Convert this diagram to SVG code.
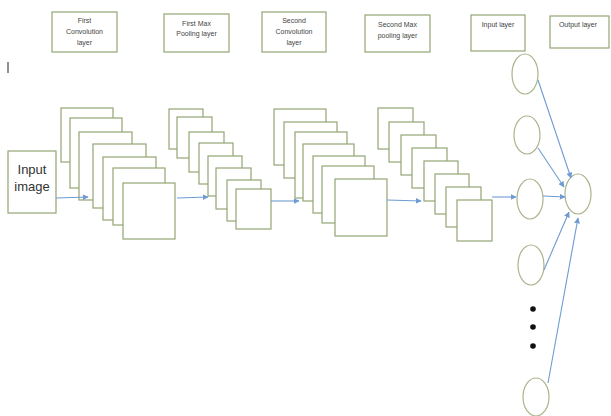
<svg xmlns="http://www.w3.org/2000/svg" width="611" height="416" viewBox="0 0 611 416">
<style>
.box{fill:#fff;stroke:#93a675;stroke-width:1.2}
.fm{fill:#fff;stroke:#93a675;stroke-width:1.2}
.cir{fill:#fff;stroke:#a9b58c;stroke-width:1.2}
.lbl{font-family:"Liberation Sans",Arial,sans-serif;font-size:7px;fill:#444;text-anchor:middle}
.big{font-family:"Liberation Sans",Arial,sans-serif;font-size:13px;fill:#333;text-anchor:middle}
.arr{fill:none;stroke:#6e9bd2;stroke-width:1.1;marker-end:url(#ah)}
</style>
<defs>
<marker id="ah" viewBox="0 0 10 10" refX="9" refY="5" markerWidth="6" markerHeight="6" markerUnits="userSpaceOnUse" orient="auto">
<path d="M0,0 L10,5 L0,10 z" fill="#6e9bd2"/>
</marker>
</defs>
<rect width="611" height="416" fill="#fff"/>
<line x1="8" y1="62" x2="8" y2="73" stroke="#222" stroke-width="1"/>

<g id="label-first-conv">
<rect class="box" x="52" y="12" width="65" height="40"/>
<text class="lbl" x="84.5" y="23">First</text>
<text class="lbl" x="84.5" y="34">Convolution</text>
<text class="lbl" x="84.5" y="45">layer</text>
</g>
<g id="label-first-pool">
<rect class="box" x="164" y="14" width="65" height="38"/>
<text class="lbl" x="196.5" y="26">First Max</text>
<text class="lbl" x="196.5" y="36">Pooling layer</text>
</g>
<g id="label-second-conv">
<rect class="box" x="262" y="12" width="64" height="40"/>
<text class="lbl" x="294" y="23">Second</text>
<text class="lbl" x="294" y="34">Convolution</text>
<text class="lbl" x="294" y="45">layer</text>
</g>
<g id="label-second-pool">
<rect class="box" x="365" y="15" width="65" height="37"/>
<text class="lbl" x="397.5" y="27">Second Max</text>
<text class="lbl" x="397.5" y="38">pooling layer</text>
</g>
<g id="label-input-layer">
<rect class="box" x="471" y="15" width="54" height="36"/>
<text class="lbl" x="498" y="27">Input layer</text>
</g>
<g id="label-output-layer">
<rect class="box" x="550" y="16" width="59" height="32"/>
<text class="lbl" x="578" y="27">Output layer</text>
</g>

<g id="input-image">
<rect class="box" x="8" y="151" width="48" height="62"/>
<text class="big" x="32" y="174">Input</text>
<text class="big" x="32" y="191">image</text>
</g>

<g id="first-conv-stack">
<rect class="fm" x="61" y="108" width="52" height="54"/>
<rect class="fm" x="70" y="118" width="52" height="70"/>
<rect class="fm" x="79" y="132" width="53" height="68"/>
<rect class="fm" x="93" y="144" width="53" height="64"/>
<rect class="fm" x="103" y="157" width="53" height="63"/>
<rect class="fm" x="113" y="168" width="52" height="57"/>
<rect class="fm" x="123" y="183" width="52" height="56"/>
</g>

<g id="first-pool-stack">
<rect class="fm" x="169" y="109" width="34" height="40"/>
<rect class="fm" x="177" y="117" width="35" height="41"/>
<rect class="fm" x="189" y="132" width="35" height="40"/>
<rect class="fm" x="199" y="143" width="34" height="41"/>
<rect class="fm" x="208" y="156" width="34" height="40"/>
<rect class="fm" x="216" y="168" width="35" height="41"/>
<rect class="fm" x="227" y="180" width="34" height="41"/>
<rect class="fm" x="236" y="189" width="35" height="40"/>
</g>

<g id="second-conv-stack">
<rect class="fm" x="274" y="109" width="52" height="56"/>
<rect class="fm" x="284" y="122" width="53" height="56"/>
<rect class="fm" x="295" y="132" width="52" height="66"/>
<rect class="fm" x="303" y="144" width="51" height="57"/>
<rect class="fm" x="313" y="156" width="52" height="57"/>
<rect class="fm" x="322" y="166" width="52" height="57"/>
<rect class="fm" x="335" y="179" width="52" height="57"/>
</g>

<g id="second-pool-stack">
<rect class="fm" x="378" y="108" width="35" height="41"/>
<rect class="fm" x="389" y="122" width="35" height="40"/>
<rect class="fm" x="401" y="135" width="35" height="40"/>
<rect class="fm" x="412" y="148" width="35" height="40"/>
<rect class="fm" x="424" y="161" width="34" height="40"/>
<rect class="fm" x="435" y="174" width="34" height="40"/>
<rect class="fm" x="446" y="187" width="35" height="40"/>
<rect class="fm" x="457" y="200" width="35" height="41"/>
</g>

<g id="input-neuron-1"><ellipse class="cir" cx="525" cy="74" rx="13" ry="20"/></g>
<g id="input-neuron-2"><ellipse class="cir" cx="527" cy="135" rx="13" ry="19"/></g>
<g id="input-neuron-3"><ellipse class="cir" cx="530" cy="199" rx="13" ry="20"/></g>
<g id="input-neuron-4"><ellipse class="cir" cx="531" cy="265" rx="13" ry="20"/></g>
<g id="input-neuron-5"><ellipse class="cir" cx="536" cy="397" rx="13" ry="19"/></g>
<g id="output-neuron"><ellipse class="cir" cx="578" cy="194" rx="13" ry="20"/></g>

<g id="ellipsis-dots" fill="#111">
<circle cx="533" cy="309" r="2.8"/>
<circle cx="533" cy="327" r="2.8"/>
<circle cx="533" cy="346" r="2.8"/>
</g>

<g id="connectors">
<line class="arr" x1="56" y1="198" x2="88" y2="197"/>
<line class="arr" x1="177" y1="198" x2="208" y2="197"/>
<line class="arr" x1="271" y1="201" x2="299" y2="201"/>
<line class="arr" x1="387" y1="200" x2="421" y2="201"/>
<line class="arr" x1="492" y1="197" x2="516" y2="197"/>
<line class="arr" x1="538" y1="80" x2="571" y2="178"/>
<line class="arr" x1="538" y1="148" x2="564" y2="187"/>
<line class="arr" x1="543" y1="196" x2="565" y2="197"/>
<line class="arr" x1="544" y1="270" x2="569" y2="212"/>
<line class="arr" x1="548" y1="383" x2="578" y2="218"/>
</g>
</svg>
